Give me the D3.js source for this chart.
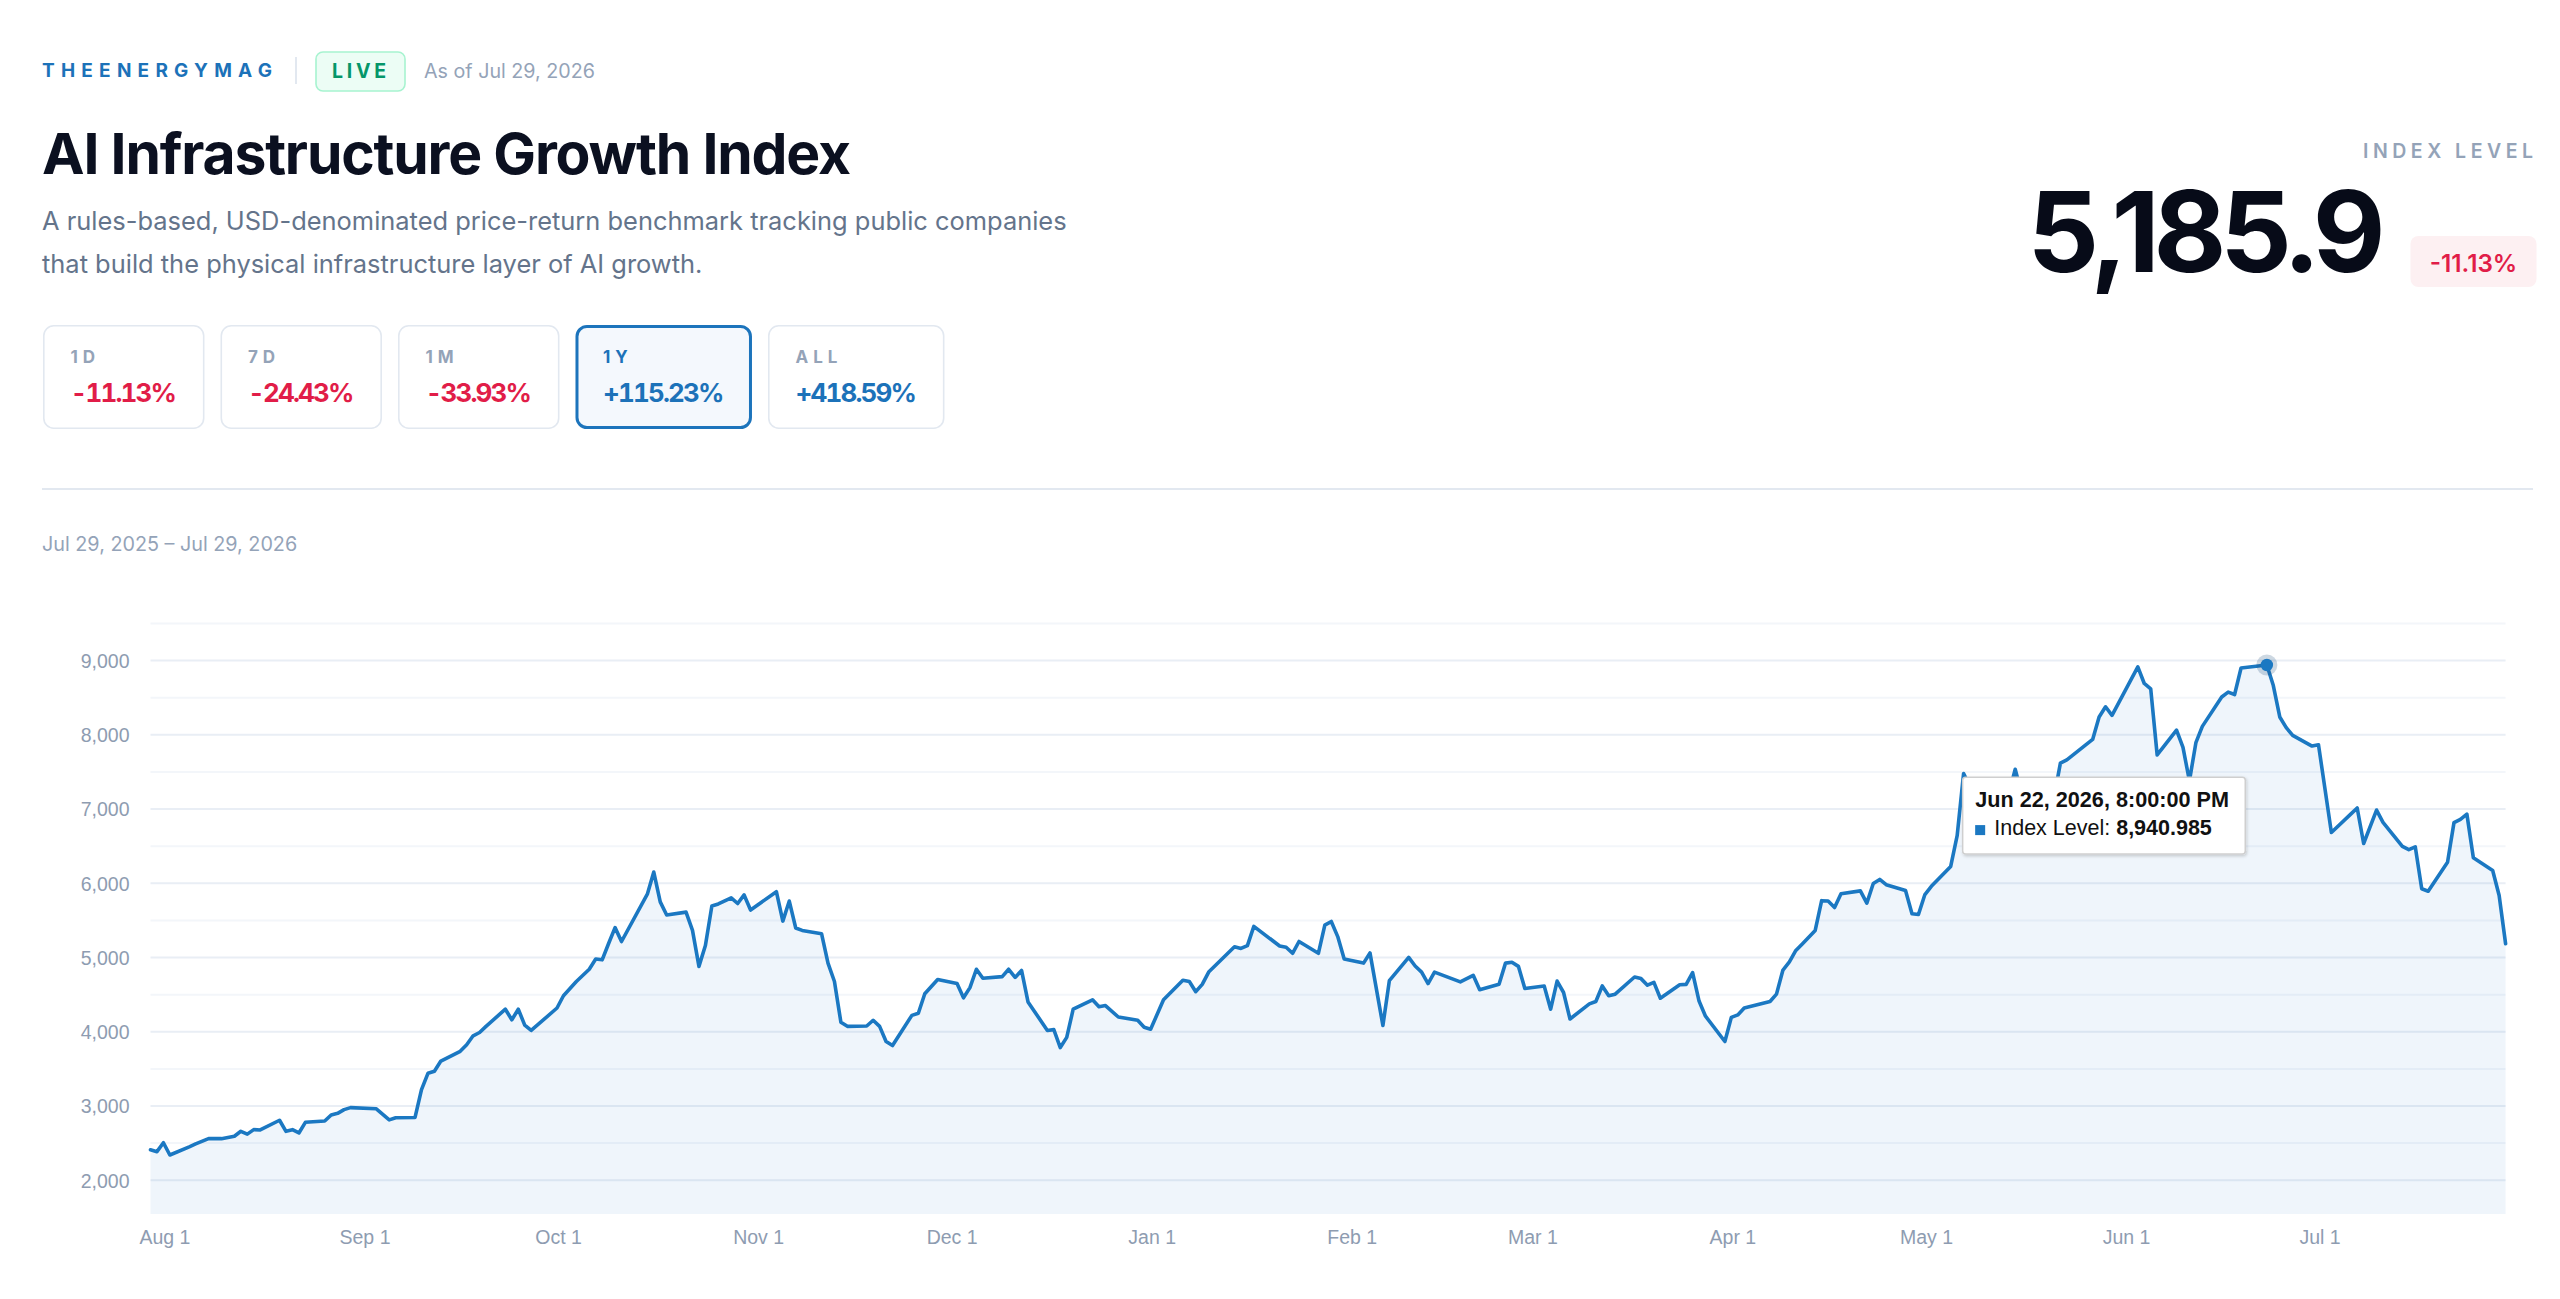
<!DOCTYPE html>
<html>
<head>
<meta charset="utf-8">
<script src="https://cdn.jsdelivr.net/npm/d3@7"></script>
<style>
  html, body { margin: 0; padding: 0; background: #ffffff; overflow: hidden; }
  svg { display: block; }
  .tnum { font-variant-numeric: tabular-nums; font-feature-settings: "tnum" 1; }
</style>
</head>
<body>
<svg id="chart" width="2560" height="1299"></svg>
<script>
// ---------------- data ----------------
const brand = "THEENERGYMAG";
const liveLabel = "LIVE";
const asOfLabel = "As of Jul 29, 2026";
const titleText = "AI Infrastructure Growth Index";
const subtitleLines = [
  "A rules-based, USD-denominated price-return benchmark tracking public companies",
  "that build the physical infrastructure layer of AI growth."
];
const periodLabels = ["1D", "7D", "1M", "1Y", "ALL"];
const periodChanges = [-11.13, -24.43, -33.93, 115.23, 418.59];
const activePeriod = "1Y";
const indexLevelLabel = "INDEX LEVEL";
const indexLevel = 5185.9;
const dayChange = -11.13;
const rangeLabel = "Jul 29, 2025 \u2013 Jul 29, 2026";
const seriesName = "Index Level";

const dates = [
  "2025-07-29","2025-07-30","2025-07-31","2025-08-01","2025-08-04","2025-08-05","2025-08-07","2025-08-09",
  "2025-08-11","2025-08-12","2025-08-13","2025-08-14","2025-08-15","2025-08-18","2025-08-19","2025-08-20",
  "2025-08-21","2025-08-22","2025-08-25","2025-08-26","2025-08-27","2025-08-28","2025-08-29","2025-09-02",
  "2025-09-04","2025-09-05","2025-09-08","2025-09-09","2025-09-10","2025-09-11","2025-09-12","2025-09-15",
  "2025-09-16","2025-09-17","2025-09-18","2025-09-19","2025-09-22","2025-09-23","2025-09-24","2025-09-25",
  "2025-09-26","2025-09-30","2025-10-01","2025-10-03","2025-10-05","2025-10-06","2025-10-07","2025-10-08",
  "2025-10-09","2025-10-10","2025-10-14","2025-10-15","2025-10-16","2025-10-17","2025-10-20","2025-10-21",
  "2025-10-22","2025-10-23","2025-10-24","2025-10-25","2025-10-27","2025-10-28","2025-10-29","2025-10-30",
  "2025-11-03","2025-11-04","2025-11-05","2025-11-06","2025-11-07","2025-11-10","2025-11-11","2025-11-12",
  "2025-11-13","2025-11-14","2025-11-17","2025-11-18","2025-11-19","2025-11-20","2025-11-21","2025-11-24",
  "2025-11-25","2025-11-26","2025-11-28","2025-12-01","2025-12-02","2025-12-03","2025-12-04","2025-12-05",
  "2025-12-08","2025-12-09","2025-12-10","2025-12-11","2025-12-12","2025-12-15","2025-12-16","2025-12-17",
  "2025-12-18","2025-12-19","2025-12-22","2025-12-23","2025-12-24","2025-12-26","2025-12-29","2025-12-30",
  "2025-12-31","2026-01-02","2026-01-05","2026-01-06","2026-01-07","2026-01-08","2026-01-09","2026-01-13",
  "2026-01-14","2026-01-15","2026-01-16","2026-01-20","2026-01-21","2026-01-22","2026-01-23","2026-01-26",
  "2026-01-27","2026-01-28","2026-01-29","2026-01-30","2026-02-02","2026-02-03","2026-02-05","2026-02-06",
  "2026-02-09","2026-02-10","2026-02-11","2026-02-12","2026-02-13","2026-02-17","2026-02-19","2026-02-20",
  "2026-02-23","2026-02-24","2026-02-25","2026-02-26","2026-02-27","2026-03-02","2026-03-03","2026-03-04",
  "2026-03-05","2026-03-06","2026-03-09","2026-03-10","2026-03-11","2026-03-12","2026-03-13","2026-03-16",
  "2026-03-17","2026-03-18","2026-03-19","2026-03-20","2026-03-23","2026-03-24","2026-03-25","2026-03-26",
  "2026-03-27","2026-03-30","2026-03-31","2026-04-01","2026-04-02","2026-04-06","2026-04-07","2026-04-08",
  "2026-04-09","2026-04-10","2026-04-11","2026-04-13","2026-04-14","2026-04-15","2026-04-16","2026-04-17",
  "2026-04-20","2026-04-21","2026-04-22","2026-04-23","2026-04-24","2026-04-27","2026-04-28","2026-04-29",
  "2026-04-30","2026-05-01","2026-05-04","2026-05-05","2026-05-06","2026-05-07","2026-05-08","2026-05-11",
  "2026-05-12","2026-05-13","2026-05-14","2026-05-15","2026-05-18","2026-05-19","2026-05-20","2026-05-21",
  "2026-05-22","2026-05-26","2026-05-27","2026-05-28","2026-05-29","2026-06-02","2026-06-03","2026-06-04",
  "2026-06-05","2026-06-08","2026-06-09","2026-06-10","2026-06-11","2026-06-12","2026-06-15","2026-06-16",
  "2026-06-17","2026-06-18","2026-06-22","2026-06-23","2026-06-24","2026-06-25","2026-06-26","2026-06-29",
  "2026-06-30","2026-07-02","2026-07-05","2026-07-06","2026-07-07","2026-07-09","2026-07-10","2026-07-13",
  "2026-07-14","2026-07-15","2026-07-16","2026-07-17","2026-07-20","2026-07-21","2026-07-22","2026-07-23",
  "2026-07-24","2026-07-27","2026-07-28","2026-07-29"
];
const values = [
  2409.5,2385,2505,2340,2450,2489,2560,2560,
  2593,2659,2621,2682,2677,2808,2659,2681,
  2637,2780,2797,2879,2901,2951,2978,2962,
  2813,2841,2846,3220,3440,3468,3605,3737,
  3825,3946,3990,4073,4304,4161,4304,4090,
  4018,4320,4485,4677,4843,4980,4969,5189,
  5403,5216,5854,6151,5750,5574,5612,5365,
  4881,5161,5695,5722,5805,5728,5843,5640,
  5887,5491,5761,5398,5365,5321,4925,4677,
  4128,4073,4078,4155,4073,3869,3814,4221,
  4249,4512,4705,4650,4458,4595,4842,4721,
  4743,4842,4732,4826,4402,4018,4029,3787,
  3924,4304,4430,4337,4353,4199,4155,4062,
  4034,4430,4694,4677,4540,4639,4804,5145,
  5123,5161,5420,5156,5139,5057,5216,5057,
  5436,5486,5282,4980,4925,5062,4084,4688,
  5002,4886,4804,4650,4804,4672,4760,4567,
  4639,4925,4936,4881,4584,4617,4304,4683,
  4529,4172,4375,4408,4617,4485,4507,4738,
  4716,4628,4666,4452,4633,4639,4798,4414,
  4210,3869,4194,4227,4320,4408,4507,4832,
  4941,5095,5183,5365,5766,5761,5673,5860,
  5898,5733,5997,6052,5981,5904,5590,5579,
  5849,5959,6228,6641,7480,7300,7380,7250,
  7320,7200,7537,7200,7100,7250,7150,7619,
  7663,7938,8241,8378,8263,8915,8692,8620,
  7729,8063,7830,7380,7894,8114,8510,8576,
  8543,8901,8940.985,8664,8241,8098,7993,7849,
  7867,6685,6932,7015,6536,6987,6822,6498,
  6454,6492,5926,5893,6283,6817,6862,6932,
  6344,6173,5835.4,5185.9
];
const xDomain = ["2025-07-29", "2026-07-29"];
const xTickDates = ["2025-08-01","2025-09-01","2025-10-01","2025-11-01","2025-12-01","2026-01-01",
                    "2026-02-01","2026-03-01","2026-04-01","2026-05-01","2026-06-01","2026-07-01"];
const yDomain = [1545, 9500];
const yLabelTicks = [2000, 3000, 4000, 5000, 6000, 7000, 8000, 9000];
const yGridTicks = [2000, 2500, 3000, 3500, 4000, 4500, 5000, 5500, 6000, 6500, 7000, 7500, 8000, 8500, 9000, 9500];

// ---------------- helpers ----------------
const svg = d3.select("#chart");
const SANS = "Inter, 'Noto Sans', 'DejaVu Sans', sans-serif";
const CHARTFONT = "'Liberation Sans', Arial, Helvetica, sans-serif";

function txt(parent, x, y, s, o) {
  const t = parent.append("text").attr("x", x).attr("y", y).text(s)
    .attr("font-family", o.family || SANS)
    .attr("font-size", o.size)
    .attr("font-weight", o.weight || 400)
    .attr("fill", o.fill || "#000");
  if (o.anchor) t.attr("text-anchor", o.anchor);
  if (o.tnum) t.attr("class", "tnum");
  return t;
}
function width(t) { return t.node().getComputedTextLength(); }
function fitSize(t, target) {
  const fs = parseFloat(t.attr("font-size"));
  t.attr("font-size", fs * target / width(t));
  return parseFloat(t.attr("font-size"));
}
function fitSpacing(t, target) {
  t.attr("letter-spacing", 0);
  const w = width(t);
  const n = t.text().length;
  const ls = (target - w) / (n - 1);
  t.attr("letter-spacing", ls);
  return ls;
}
const pct = v => (v >= 0 ? "+" : "-") + Math.abs(v).toFixed(2) + "%";

// ---------------- header ----------------
const head = svg.append("g");
const brandT = txt(head, 42, 77, brand, { size: 19, weight: 700, fill: "#1c72b9" });
fitSpacing(brandT, 230);
head.append("line").attr("x1", 296).attr("x2", 296).attr("y1", 57).attr("y2", 84)
  .attr("stroke", "#e2e8f0").attr("stroke-width", 2);
head.append("rect").attr("x", 316).attr("y", 52).attr("width", 89).attr("height", 39).attr("rx", 7)
  .attr("fill", "#ecfdf5").attr("stroke", "#a7f3d0").attr("stroke-width", 1.6);
const liveT = txt(head, 332, 78, liveLabel, { size: 19.5, weight: 700, fill: "#059669" });
fitSpacing(liveT, 54);
const asOfT = txt(head, 424, 77.5, asOfLabel, { size: 19, weight: 400, fill: "#94a3b8" });
fitSize(asOfT, 171);

const titleT = txt(head, 42, 174, titleText, { size: 57, weight: 700, fill: "#0b1020" });
fitSpacing(titleT, 809);

const sub1 = txt(head, 42, 230, subtitleLines[0], { size: 23.5, weight: 400, fill: "#64748b" });
const subSize = fitSize(sub1, 1025);
txt(head, 42, 273, subtitleLines[1], { size: subSize, weight: 400, fill: "#64748b" });

// period cards
const cards = head.append("g");
let cx = 43;
let valSpacing = null;
periodLabels.forEach((lab, i) => {
  const active = lab === activePeriod;
  const g = cards.append("g");
  const rect = g.append("rect");
  const lt = txt(g, cx + 27.5, 363.3, lab, { size: 17, weight: 700, fill: active ? "#1c72b9" : "#94a3b8" })
    .attr("letter-spacing", 5);
  const vt = txt(g, cx + 27.5, 401.7, pct(periodChanges[i]),
    { size: 26, weight: 700, fill: periodChanges[i] < 0 ? "#e11d48" : "#1c72b9", tnum: true });
  if (valSpacing === null) valSpacing = fitSpacing(vt, 106.5);
  else vt.attr("letter-spacing", valSpacing);
  const w = Math.max(width(vt) - valSpacing, width(lt)) + 55;
  const sw = active ? 3 : 1.6;
  rect.attr("x", cx + sw / 2).attr("y", 325 + sw / 2)
    .attr("width", w - sw).attr("height", 104 - sw).attr("rx", 10)
    .attr("fill", active ? "#f4f8fd" : "#ffffff")
    .attr("stroke", active ? "#1c74bc" : "#e2e8f0").attr("stroke-width", sw);
  cx += w + 16;
});

// right block
const RIGHT = 2533;
const ilT = txt(head, 0, 157.5, indexLevelLabel, { size: 19.5, weight: 600, fill: "#94a3b8" });
fitSpacing(ilT, 170);
ilT.attr("x", RIGHT - 170);

const bigT = txt(head, 0, 272, d3.format(",.1f")(indexLevel), { size: 112, weight: 700, fill: "#070b18" });
fitSpacing(bigT, 358);
bigT.attr("x", 2385.5 - 358);

head.append("rect").attr("x", 2410.5).attr("y", 236).attr("width", 126).attr("height", 51).attr("rx", 8)
  .attr("fill", "#fdf0f2");
const badgeT = txt(head, 2473.5, 272, pct(dayChange), { size: 21, weight: 600, fill: "#e11d48", anchor: "middle" });
fitSize(badgeT, 87.5);

// separator and range label
svg.append("line").attr("x1", 42).attr("x2", RIGHT).attr("y1", 489).attr("y2", 489)
  .attr("stroke", "#e2e8f0").attr("stroke-width", 2);
const rangeT = txt(svg, 42, 551, rangeLabel, { size: 21, weight: 400, fill: "#94a3b8" });
fitSize(rangeT, 255.5);

// ---------------- chart ----------------
const parseDay = d3.timeParse("%Y-%m-%d %H:%M");
const pointDate = s => parseDay(s + " 20:00");
const tickDate = s => parseDay(s + " 00:00");
const data = dates.map((s, i) => ({ date: pointDate(s), value: values[i] }));

const x = d3.scaleTime().domain(xDomain.map(pointDate)).range([150.5, 2505.6]);
const y = d3.scaleLinear().domain(yDomain).range([1214, 623.5]);

const plot = svg.append("g");

// grid lines
plot.append("g").selectAll("line").data(yGridTicks).join("line")
  .attr("x1", x.range()[0]).attr("x2", x.range()[1])
  .attr("y1", d => y(d)).attr("y2", d => y(d))
  .attr("stroke", d => d % 1000 === 0 ? "#e9eef5" : "#f3f6fa")
  .attr("stroke-width", 2);

// area + line
const area = d3.area().x(d => x(d.date)).y0(y(yDomain[0])).y1(d => y(d.value));
const line = d3.line().x(d => x(d.date)).y(d => y(d.value));
plot.append("path").datum(data).attr("d", area)
  .attr("fill", "#1b78c2").attr("fill-opacity", 0.07);
plot.append("path").datum(data).attr("d", line)
  .attr("fill", "none").attr("stroke", "#1b78c2").attr("stroke-width", 3.6)
  .attr("stroke-linejoin", "round").attr("stroke-linecap", "round");

// y axis labels
const yAxis = d3.axisLeft(y).tickValues(yLabelTicks).tickFormat(d3.format(",")).tickSize(0).tickPadding(0);
const yG = svg.append("g").attr("transform", "translate(129.5,0)").call(yAxis);
yG.select(".domain").remove();
yG.selectAll("text").attr("font-family", CHARTFONT).attr("font-size", 19.5)
  .attr("fill", "#8e9cb1").attr("dy", "0.35em").attr("x", 0);

// x axis labels
const xAxis = d3.axisBottom(x).tickValues(xTickDates.map(tickDate))
  .tickFormat(d3.timeFormat("%b %-d")).tickSize(0).tickPadding(0);
const xG = svg.append("g").attr("transform", "translate(0,1244)").call(xAxis);
xG.select(".domain").remove();
xG.selectAll("text").attr("font-family", CHARTFONT).attr("font-size", 19.5)
  .attr("fill", "#8e9cb1").attr("dy", 0).attr("y", 0);

// ---------------- hovered point + tooltip ----------------
const peak = data.reduce((a, b) => (b.value > a.value ? b : a));
const px = x(peak.date), py = y(peak.value);

const defs = svg.append("defs");
const f = defs.append("filter").attr("id", "shadow").attr("x", "-10%").attr("y", "-10%")
  .attr("width", "130%").attr("height", "140%");
f.append("feDropShadow").attr("dx", 1).attr("dy", 1.5).attr("stdDeviation", 1.6)
  .attr("flood-color", "#000").attr("flood-opacity", 0.18);

plot.append("circle").attr("cx", px).attr("cy", py).attr("r", 10.5)
  .attr("fill", "#1b4f7a").attr("fill-opacity", 0.22);
plot.append("circle").attr("cx", px).attr("cy", py).attr("r", 6.2)
  .attr("fill", "#1b78c2");

const tip = svg.append("g").attr("transform", `translate(${px - 304.2},${py + 112.3})`);
tip.append("rect").attr("x", 0).attr("y", 0).attr("width", 282.6).attr("height", 76.7).attr("rx", 3)
  .attr("fill", "#ffffff").attr("stroke", "#cfcfcf").attr("stroke-width", 1.5)
  .attr("filter", "url(#shadow)");
const tipTitle = txt(tip, 12.5, 29.5, d3.timeFormat("%b %-d, %Y, %-I:%M:%S %p")(peak.date),
  { family: CHARTFONT, size: 21.5, weight: 700, fill: "#111111" });
fitSize(tipTitle, 254);
tip.append("rect").attr("x", 12.5).attr("y", 47.8).attr("width", 10).attr("height", 10).attr("fill", "#1b78c2");
const tl = tip.append("text").attr("x", 31.6).attr("y", 57.8)
  .attr("font-family", CHARTFONT).attr("font-size", 21.5).attr("fill", "#111111");
tl.append("tspan").text(seriesName + ": ");
tl.append("tspan").attr("font-weight", 700).text(d3.format(",.3f")(peak.value));
</script>
</body>
</html>
